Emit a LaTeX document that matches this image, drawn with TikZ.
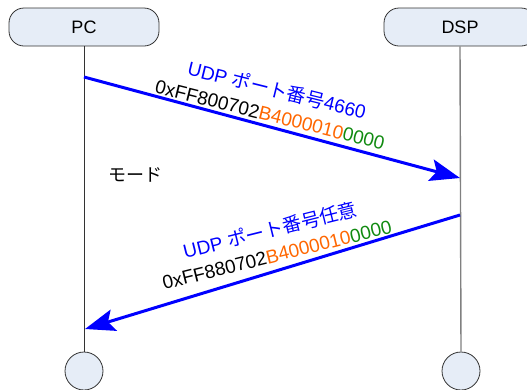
\documentclass[tikz,border=0pt]{standalone}
\usepackage{fontspec}
\setmainfont{Liberation Sans}
\newfontfamily\jp{Noto Sans CJK JP}
\usetikzlibrary{arrows.meta}
\definecolor{boxfill}{HTML}{E6EDF7}
\definecolor{boxline}{HTML}{333333}
\definecolor{lbl}{HTML}{0000FF}
\definecolor{org}{HTML}{FF6600}
\definecolor{grn}{HTML}{108A10}
\tikzset{
  actor/.style={draw=boxline, fill=boxfill, rounded corners=15pt, minimum width=150pt, minimum height=38pt, line width=0.8pt, inner sep=0pt, font=\fontsize{18}{22}\selectfont},
  endcircle/.style={draw=boxline, fill=boxfill, circle, minimum size=38pt, inner sep=0pt, line width=0.8pt},
  msg/.style={draw=lbl, line width=3pt, -{Stealth[length=30pt,width=22pt,inset=6pt]}},
  txt/.style={inner sep=0pt, font=\fontsize{18}{22}\selectfont},
  lbltxt/.style={inner sep=0pt, font=\fontsize{19}{23}\selectfont},
}
\begin{document}
\begin{tikzpicture}[x=1pt,y=-1pt]
\useasboundingbox (0,0) rectangle (527,389);
\node[actor] (pc) at (84,27) {PC};
\node[actor, minimum width=152pt] (dsp) at (460,27) {DSP};
\node[endcircle] (pcend) at (84,371) {};
\node[endcircle] (dspend) at (461,371) {};
\draw[boxline, line width=1pt] (pc.south) -- (pcend.north);
\draw[gray, line width=1.4pt] (dsp.south) -- (dspend.north);
\coordinate (a1s) at (84,77);
\coordinate (a1e) at (460,178);
\coordinate (a2s) at (460,215);
\coordinate (a2e) at (85,329);
\draw[msg] (a1s) -- (a1e);
\draw[msg] (a2s) -- (a2e);
\node[lbltxt, text=lbl, rotate=-14] (l1a) at (277,90) {UDP {\jp ポート番号}4660};
\node[lbltxt, rotate=-14] (l1b) at (270,115) {0xFF800702\textcolor{org}{B4000010}\textcolor{grn}{0000}};
\node[txt] (mode) at (135,175) {\jp モード};
\node[lbltxt, text=lbl, rotate=14] (l2a) at (270,230) {UDP {\jp ポート番号任意}};
\node[lbltxt, rotate=14] (l2b) at (277,255) {0xFF880702\textcolor{org}{B4000010}\textcolor{grn}{0000}};
\end{tikzpicture}
\end{document}
